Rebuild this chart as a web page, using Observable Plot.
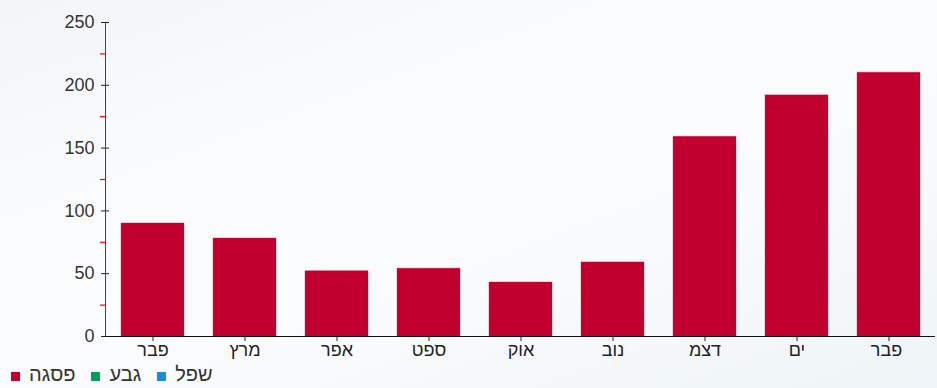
<!DOCTYPE html>
<html>
<head>
<meta charset="utf-8">
<script src="https://cdn.jsdelivr.net/npm/d3@7"></script>
<script src="https://cdn.jsdelivr.net/npm/@observablehq/plot@0.6"></script>
<style>
  html, body { margin: 0; padding: 0; }
  body {
    width: 937px; height: 388px; overflow: hidden;
    background: linear-gradient(160deg, #f2f6f9 0%, #fbfcfd 35%, #f9fbfc 65%, #eef4f7 100%);
    font-family: "Liberation Sans", Arial, sans-serif;
  }
  #chart svg { display: block; background: transparent; }
  #legend { display: flex; align-items: flex-end; margin: 0 0 0 11px; height: 22px; font-size: 20px; color: #333; line-height: 20px; }
  #legend .item { display: flex; align-items: flex-end; margin-right: 16px; }
  #legend .sw { width: 9px; height: 9px; margin: 0 9px 3px 0; }
</style>
</head>
<body>
<div id="chart"></div>
<div id="legend"></div>
<script>
// Month labels (x categories)
const months = ["פבר", "מרץ", "אפר", "ספט", "אוק", "נוב", "דצמ", "ים", "פבר "];
// Series values ("פסגה")
const peakValues = [90, 78, 52, 54, 43, 59, 159, 192, 210];
// Legend series
const seriesNames = ["פסגה", "גבע", "שפל"];
const seriesColors = ["#c20030", "#00a05a", "#1b8fd6"];
// Y ticks
const majorTicks = [0, 50, 100, 150, 200, 250];
const minorTicks = [25, 75, 125, 175, 225];

const data = months.map((m, i) => ({month: m, value: peakValues[i], series: seriesNames[0]}));

const chart = Plot.plot({
  width: 937,
  height: 362,
  marginLeft: 105,
  marginRight: 2,
  marginTop: 22,
  marginBottom: 26,
  style: {fontFamily: "Liberation Sans, Arial, sans-serif", fontSize: "17px", color: "#333", background: "transparent"},
  x: {domain: months, paddingInner: 0.316, paddingOuter: 0.16, label: null},
  y: {domain: [0, 250], label: null},
  color: {domain: seriesNames, range: seriesColors},
  marks: [
    Plot.barY(data, {x: "month", y: "value", fill: "series", stroke: "series", strokeOpacity: 0.3}),
    Plot.axisY(minorTicks, {tickSize: 5, stroke: "#ff0000", strokeOpacity: 1, strokeWidth: 1.2, text: null}),
    Plot.axisY(majorTicks, {tickSize: 8, dx: 4, stroke: "#222", strokeOpacity: 1, text: null}),
    Plot.axisY(majorTicks, {tickSize: 0, tickPadding: 11, fontSize: 18, fill: "#333"}),
    Plot.frame({anchor: "left", stroke: "#444"}),
    Plot.ruleY([0], {stroke: "#111"}),
    Plot.axisX({tickSize: 5, tickPadding: 2, fontSize: 18, fill: "#222", stroke: "#222", strokeOpacity: 1})
  ]
});
document.getElementById("chart").appendChild(chart);

// Legend built from the color scale of the chart
const colorScale = chart.scale("color");
const legendDiv = d3.select("#legend");
colorScale.domain.forEach((name, i) => {
  const item = legendDiv.append("div").attr("class", "item");
  item.append("div").attr("class", "sw").style("background", colorScale.range[i]);
  item.append("span").text(name);
});
</script>
</body>
</html>
